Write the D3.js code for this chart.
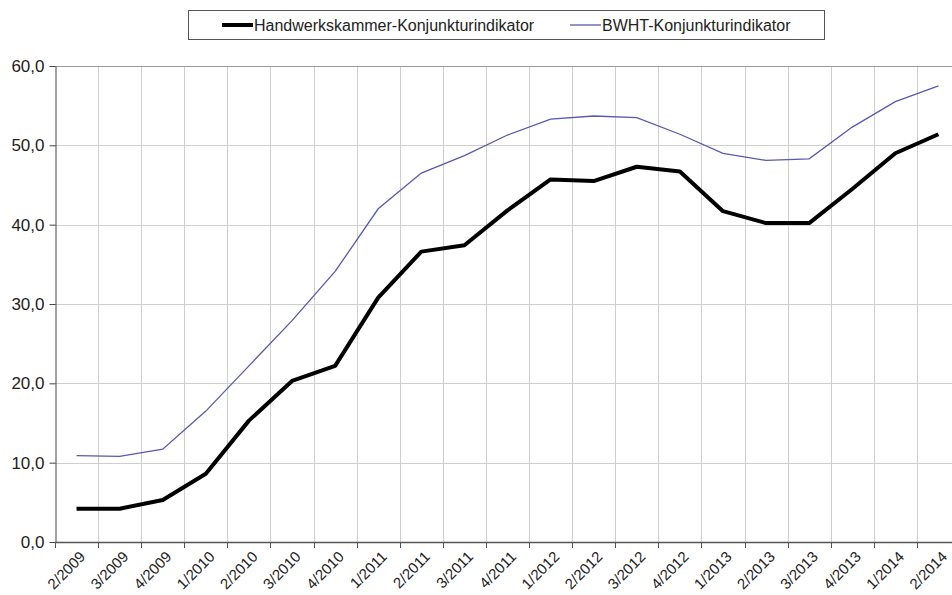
<!DOCTYPE html>
<html lang="en">
  <head>
    <meta charset="utf-8" />
    <title>Konjunkturindikator</title>
    <script src="https://cdnjs.cloudflare.com/ajax/libs/d3/7.8.5/d3.min.js"></script>
    <style>
      body { margin: 0; background: #fff; }
      svg { font-family: "Liberation Sans", Arial, sans-serif; }
    </style>
  </head>
  <body>
    <script>
      // quarters on the x axis
      const quarters = ['2/2009', '3/2009', '4/2009', '1/2010', '2/2010', '3/2010', '4/2010',
        '1/2011', '2/2011', '3/2011', '4/2011', '1/2012', '2/2012', '3/2012', '4/2012',
        '1/2013', '2/2013', '3/2013', '4/2013', '1/2014', '2/2014'];

      const hwk = [4.2, 4.2, 5.3, 8.6, 15.3, 20.3, 22.2, 30.8, 36.6, 37.4, 41.8, 45.7, 45.5,
        47.3, 46.7, 41.7, 40.2, 40.2, 44.5, 49.0, 51.4];
      const bwht = [10.9, 10.8, 11.7, 16.5, 22.2, 27.9, 34.1, 42.0, 46.5, 48.7, 51.3, 53.3, 53.7,
        53.5, 51.4, 49.0, 48.1, 48.3, 52.3, 55.5, 57.5];

      const seriesNames = ['Handwerkskammer-Konjunkturindikator', 'BWHT-Konjunkturindikator'];
      const yTicks = [0, 10, 20, 30, 40, 50, 60];

      const width = 952;
      const height = 595;
      const marginLeft = 55;
      const plotRight = 960;   // plot runs a bit past the picture edge
      const marginTop = 66;
      const plotBottom = 542;

      const svg = d3.select('body').append('svg')
        .attr('width', width)
        .attr('height', height);

      const x = d3.scaleBand()
        .domain(quarters)
        .range([marginLeft, plotRight]);

      const y = d3.scaleLinear()
        .domain([0, 60])
        .range([plotBottom, marginTop]);

      const cx = q => x(q) + x.bandwidth() / 2;

      // grid
      svg.append('g')
        .attr('stroke', '#cfcfcf')
        .attr('stroke-width', 1)
        .selectAll('line.v')
        .data(quarters.slice(1))
        .join('line')
        .attr('x1', d => Math.round(x(d)) + 0.5)
        .attr('x2', d => Math.round(x(d)) + 0.5)
        .attr('y1', marginTop)
        .attr('y2', plotBottom);

      svg.append('g')
        .selectAll('line')
        .data(yTicks.slice(1))
        .join('line')
        .attr('x1', marginLeft)
        .attr('x2', plotRight)
        .attr('y1', d => Math.round(y(d)) + 0.5)
        .attr('y2', d => Math.round(y(d)) + 0.5)
        .attr('stroke', d => d === 60 ? '#9a9a9a' : '#cfcfcf');

      // y axis
      const fmt = d => d3.format('.1f')(d).replace('.', ',');
      svg.append('g')
        .attr('transform', `translate(${marginLeft + 0.5},0)`)
        .call(d3.axisLeft(y).tickValues(yTicks).tickFormat(fmt).tickSize(6).tickPadding(5).tickSizeOuter(0))
        .call(g => g.select('.domain').attr('stroke', '#444'))
        .call(g => g.selectAll('.tick line').attr('stroke', '#444'))
        .call(g => g.selectAll('.tick text').attr('font-size', 17).attr('fill', '#222')
          .attr('font-family', '"Liberation Sans", Arial, sans-serif'));

      // x axis
      svg.append('line')
        .attr('x1', marginLeft).attr('x2', plotRight)
        .attr('y1', plotBottom + 0.5).attr('y2', plotBottom + 0.5)
        .attr('stroke', '#555').attr('stroke-width', 1.5);

      svg.append('g')
        .attr('stroke', '#555')
        .selectAll('line')
        .data(quarters)
        .join('line')
        .attr('x1', d => Math.round(x(d)) + 0.5)
        .attr('x2', d => Math.round(x(d)) + 0.5)
        .attr('y1', plotBottom)
        .attr('y2', plotBottom + 6);

      svg.append('g')
        .selectAll('text')
        .data(quarters)
        .join('text')
        .attr('transform', d => `translate(${cx(d) + 6},${plotBottom + 12}) rotate(-45)`)
        .attr('text-anchor', 'end')
        .attr('dy', '0.35em')
        .attr('font-size', 15)
        .attr('fill', '#222')
        .text(d => d);

      // lines
      const line = d3.line()
        .x((d, i) => cx(quarters[i]))
        .y(d => y(d));

      svg.append('path')
        .datum(bwht)
        .attr('fill', 'none')
        .attr('stroke', '#5858b0')
        .attr('stroke-width', 1.3)
        .attr('d', line);

      svg.append('path')
        .datum(hwk)
        .attr('fill', 'none')
        .attr('stroke', '#000')
        .attr('stroke-width', 4)
        .attr('stroke-linejoin', 'round')
        .attr('d', line);

      // legend
      const legend = svg.append('g');
      legend.append('rect')
        .attr('x', 188.5).attr('y', 10.5)
        .attr('width', 636).attr('height', 29)
        .attr('fill', '#fff').attr('stroke', '#555');

      const items = [
        { name: seriesNames[0], color: '#000', w: 4, x: 222 },
        { name: seriesNames[1], color: '#5858b0', w: 1.3, x: 570 }
      ];
      items.forEach(it => {
        legend.append('line')
          .attr('x1', it.x).attr('x2', it.x + 31)
          .attr('y1', 25).attr('y2', 25)
          .attr('stroke', it.color).attr('stroke-width', it.w);
        legend.append('text')
          .attr('x', it.x + 32).attr('y', 25)
          .attr('dy', '0.35em')
          .attr('font-size', 16)
          .attr('fill', '#222')
          .text(it.name);
      });
    </script>
  </body>
</html>
